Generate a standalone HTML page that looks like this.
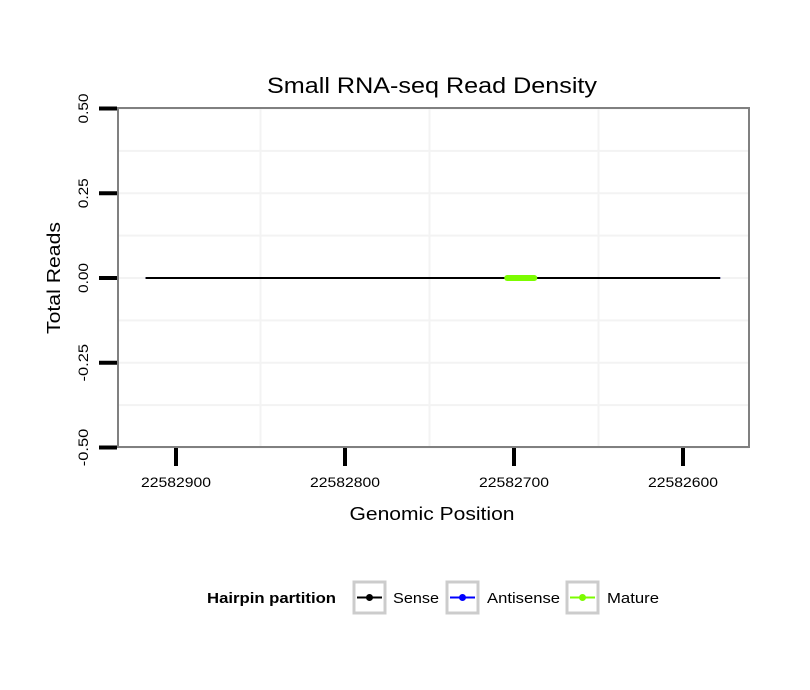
<!DOCTYPE html>
<html><head><meta charset="utf-8"><style>
body{margin:0;background:#fff;}
svg{display:block;font-family:"Liberation Sans",sans-serif;}
</style></head><body>
<svg id="chart" width="810" height="690"></svg>
<script>
const yTicks=[0.5,0.25,0,-0.25,-0.5];
const yTickLabels=["0.50","0.25","0.00","-0.25","-0.50"];
const xTicks=[22582900,22582800,22582700,22582600];
const xTickLabels=["22582900","22582800","22582700","22582600"];
const senseX=[22582918,22582578];
const senseY=[0,0];
const antisenseX=[22582918,22582578];
const antisenseY=[0,0];
const matureX=[22582704,22582688];
const matureY=[0,0];

const NS="http://www.w3.org/2000/svg";
const svg=document.getElementById('chart');
const L=118,R=749,T=108,B=447;
function xs(v){return 176+(22582900-v)*1.69;}
function ys(v){return 278-v*339;}
function el(t,a,p){const e=document.createElementNS(NS,t);for(const k in a)e.setAttribute(k,a[k]);(p||svg).appendChild(e);return e;}

let r=el('rect',{x:L,y:T,width:R-L,height:B-T,fill:'#fff'});


[0.375,0.125,-0.125,-0.375].forEach(v=>{let g=el('line',{x1:L,x2:R,y1:ys(v),y2:ys(v),stroke:'#f3f3f3','stroke-width':2});});
yTicks.forEach(v=>{let g=el('line',{x1:L,x2:R,y1:ys(v),y2:ys(v),stroke:'#f3f3f3','stroke-width':2});});
[22582850,22582750,22582650].forEach(v=>{let g=el('line',{x1:xs(v),x2:xs(v),y1:T,y2:B,stroke:'#f3f3f3','stroke-width':2});});
let s=el('line',{x1:xs(antisenseX[0]),x2:xs(antisenseX[1]),y1:ys(antisenseY[0]),y2:ys(antisenseY[1]),stroke:'#0000ff','stroke-width':2});

s=el('line',{x1:xs(senseX[0]),x2:xs(senseX[1]),y1:ys(senseY[0]),y2:ys(senseY[1]),stroke:'#000','stroke-width':2});

s=el('line',{x1:xs(matureX[0]),x2:xs(matureX[1]),y1:ys(matureY[0]),y2:ys(matureY[1]),stroke:'#7cfc00','stroke-width':6,'stroke-linecap':'round'});

r=el('rect',{x:L,y:T,width:R-L,height:B-T,fill:'none',stroke:'#808080','stroke-width':2});

yTicks.forEach((v,i)=>{
 let t=el('line',{x1:99,x2:117,y1:ys(v),y2:ys(v),stroke:'#000','stroke-width':4});
 
 let tx=el('text',{x:0,y:0,transform:`translate(88,${ys(v)}) rotate(-90)`,'text-anchor':'middle','font-size':14,textLength:yTickLabels[i].length*7.5,lengthAdjust:'spacingAndGlyphs'});
 tx.textContent=yTickLabels[i];
 
});
xTicks.forEach((v,i)=>{
 let t=el('line',{x1:xs(v),x2:xs(v),y1:448,y2:466,stroke:'#000','stroke-width':4});
 
 let tx=el('text',{x:xs(v),y:487,'text-anchor':'middle','font-size':14,textLength:70,lengthAdjust:'spacingAndGlyphs'});
 tx.textContent=xTickLabels[i];
 
});
</script>
<svg style="position:absolute;left:0;top:0" width="810" height="690">
<text x="432" y="93" text-anchor="middle" font-size="22" textLength="330" lengthAdjust="spacingAndGlyphs">Small RNA-seq Read Density</text>
<text x="432" y="520" text-anchor="middle" font-size="18" textLength="165" lengthAdjust="spacingAndGlyphs">Genomic Position</text>
<text transform="translate(60,278) rotate(-90)" text-anchor="middle" font-size="18" textLength="112" lengthAdjust="spacingAndGlyphs">Total Reads</text>
<g font-size="15">
<text x="207" y="603" font-weight="bold" textLength="129" lengthAdjust="spacingAndGlyphs">Hairpin partition</text>
<g>
<rect x="354" y="582" width="31" height="31" fill="#fff" stroke="#cccccc" stroke-width="3"/>
<line x1="357" x2="382" y1="597.5" y2="597.5" stroke="#000" stroke-width="2"/><circle cx="369.5" cy="597.5" r="3.5" fill="#000"/>
<text x="393" y="603" textLength="46" lengthAdjust="spacingAndGlyphs">Sense</text></g>
<g>
<rect x="447" y="582" width="31" height="31" fill="#fff" stroke="#cccccc" stroke-width="3"/>
<line x1="450" x2="475" y1="597.5" y2="597.5" stroke="#0000ff" stroke-width="2"/><circle cx="462.5" cy="597.5" r="3.5" fill="#0000ff"/>
<text x="487" y="603" textLength="73" lengthAdjust="spacingAndGlyphs">Antisense</text></g>
<g>
<rect x="567" y="582" width="31" height="31" fill="#fff" stroke="#cccccc" stroke-width="3"/>
<line x1="570" x2="595" y1="597.5" y2="597.5" stroke="#7cfc00" stroke-width="2"/><circle cx="582.5" cy="597.5" r="3.5" fill="#7cfc00"/>
<text x="607" y="603" textLength="52" lengthAdjust="spacingAndGlyphs">Mature</text></g>
</g>
</svg>
</body></html>
